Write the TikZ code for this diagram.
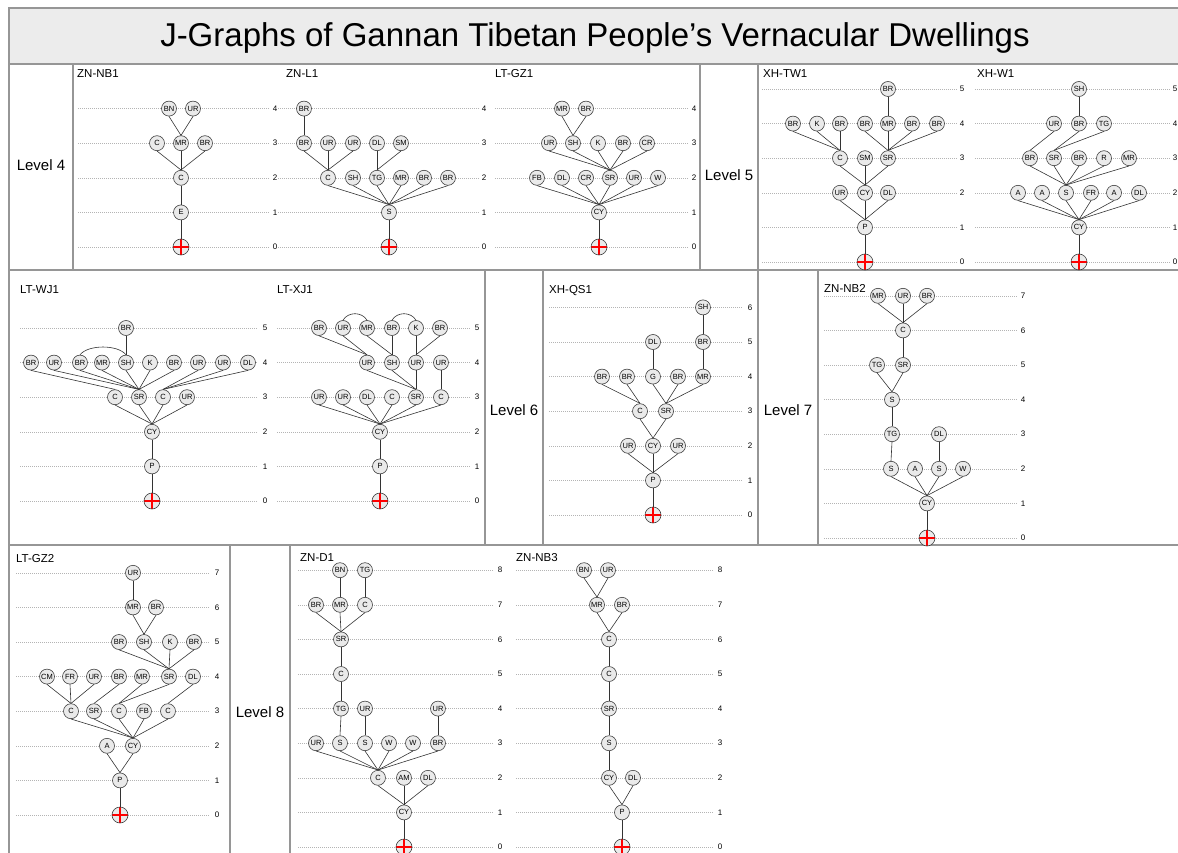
\documentclass[tikz,border=0pt]{standalone}
\usepackage{fontspec}
\setmainfont{Liberation Sans}
\usetikzlibrary{positioning}
\definecolor{frame1}{RGB}{150,150,150}
\definecolor{band1}{RGB}{236,236,236}
\definecolor{room1}{RGB}{234,234,234}
\definecolor{dot1}{RGB}{180,180,180}

% dotted level lines of one J-graph: prefix, x from, x to, label x, top level
\newcommand{\jlevels}[5]{%
  \foreach \k in {0,...,#5}{
    \draw[levelline] (#2,\k) -- (#3,\k);
    \node[levelnum, name=#1n\k] at(#4,\k) {\k};
  }}

\begin{document}
\begin{tikzpicture}[x=1pt, y=-1pt,
    room/.style={circle, draw=black!75, fill=room1, line width=0.6pt, minimum size=15pt, inner sep=0pt, font=\fontsize{7.5}{7.5}\selectfont},
    rootnode/.style={circle, draw=black!75, fill=room1, line width=0.6pt, minimum size=16pt, inner sep=0pt,
      path picture={\draw[red, line width=1.25pt] (path picture bounding box.west) -- (path picture bounding box.east)
        (path picture bounding box.north) -- (path picture bounding box.south);}},
    link/.style={draw=black!80, line width=0.6pt},
    levelline/.style={draw=dot1, line width=0.5pt, dash pattern=on 1pt off 1pt},
    levelnum/.style={font=\fontsize{8}{8}\selectfont, inner sep=0pt},
    frameline/.style={draw=frame1, line width=1.2pt},
    paneltitle/.style={font=\fontsize{11.5}{12}\selectfont, anchor=base west, inner sep=0pt},
    leveltitle/.style={font=\fontsize{15}{16}\selectfont}
]
  \useasboundingbox (0,0) rectangle (1178,853);

  % frame
  \draw[frameline, fill=band1] (9,8) rectangle (1184,64);
  \node[name=title, anchor=base, font=\fontsize{33}{36}\selectfont] at(595,47) {J-Graphs of Gannan Tibetan People’s Vernacular Dwellings};
  \draw[frameline, line width=2pt] (9,64) -- (9,853);
  \draw[frameline] (9,270) -- (1184,270);
  \draw[frameline] (9,545) -- (1184,545);
  \draw[frameline] (73,64) -- (73,270);
  \draw[frameline] (700,64) -- (700,270);
  \draw[frameline] (758,64) -- (758,270);
  \draw[frameline] (485,270) -- (485,545);
  \draw[frameline] (543,270) -- (543,545);
  \draw[frameline] (758,270) -- (758,545);
  \draw[frameline] (818,270) -- (818,545);
  \draw[frameline] (230,545) -- (230,853);
  \draw[frameline] (290,545) -- (290,853);

  \node[leveltitle, name=lv4] at(41,165) {Level 4};
  \node[leveltitle, name=lv5] at(729,175) {Level 5};
  \node[leveltitle, name=lv6] at(514,410) {Level 6};
  \node[leveltitle, name=lv7] at(788,410) {Level 7};
  \node[leveltitle, name=lv8] at(260,712) {Level 8};

  \node[paneltitle, name=tzna] at(77,78) {ZN-NB1};
  \node[paneltitle, name=tznl] at(286,78) {ZN-L1};
  \node[paneltitle, name=tgza] at(495,78) {LT-GZ1};
  \node[paneltitle, name=ttwa] at(763,78) {XH-TW1};
  \node[paneltitle, name=twa] at(977,78) {XH-W1};
  \node[paneltitle, name=twja] at(20,293) {LT-WJ1};
  \node[paneltitle, name=txja] at(277,293) {LT-XJ1};
  \node[paneltitle, name=tqsa] at(549,293) {XH-QS1};
  \node[paneltitle, name=tznb] at(824,292) {ZN-NB2};
  \node[paneltitle, name=tgzb] at(16,562) {LT-GZ2};
  \node[paneltitle, name=tzd] at(300,561) {ZN-D1};
  \node[paneltitle, name=tznc] at(516,561) {ZN-NB3};

  % ZN-NB1
  \begin{scope}[shift={(0,247)}, y=34.6pt]
    \jlevels{zna}{78}{270}{275}{4}
    \foreach \n/\x/\lab in {a/169/BN, b/193/UR} \node[room, name=zna4\n] at(\x,4) {\lab};
    \foreach \n/\x/\lab in {a/157/C, b/181/MR, c/205/BR} \node[room, name=zna3\n] at(\x,3) {\lab};
    \node[room, name=zna2a] at(181,2) {C};
    \node[room, name=zna1a] at(181,1) {E};
    \node[rootnode, name=zna0] at(181,0) {};
    \foreach \a/\b in {4a/3b, 4b/3b, 3a/2a, 3b/2a, 3c/2a, 2a/1a, 1a/0}
      \draw[link] (zna\a.south) -- (zna\b.north);
  \end{scope}

  % ZN-L1
  \begin{scope}[shift={(0,247)}, y=34.6pt]
    \jlevels{znl}{278}{479}{484}{4}
    \node[room, name=znl4a] at(304,4) {BR};
    \foreach \n/\x/\lab in {a/304/BR, b/328/UR, c/353/UR, d/377/DL, e/401/SM} \node[room, name=znl3\n] at(\x,3) {\lab};
    \foreach \n/\x/\lab in {a/328/C, b/353/SH, c/377/TG, d/401/MR, e/424/BR, f/448/BR} \node[room, name=znl2\n] at(\x,2) {\lab};
    \node[room, name=znl1a] at(389,1) {S};
    \node[rootnode, name=znl0] at(389,0) {};
    \foreach \a/\b in {4a/3a, 3a/2a, 3b/2a, 3c/2a, 3d/2c, 3e/2c, 2a/1a, 2b/1a, 2c/1a, 2d/1a, 2e/1a, 2f/1a, 1a/0}
      \draw[link] (znl\a.south) -- (znl\b.north);
  \end{scope}

  % LT-GZ1
  \begin{scope}[shift={(0,247)}, y=34.6pt]
    \jlevels{gza}{495}{689}{694}{4}
    \foreach \n/\x/\lab in {a/562/MR, b/586/BR} \node[room, name=gza4\n] at(\x,4) {\lab};
    \foreach \n/\x/\lab in {a/549/UR, b/573/SH, c/598/K, d/623/BR, e/647/CR} \node[room, name=gza3\n] at(\x,3) {\lab};
    \foreach \n/\x/\lab in {a/537/FB, b/562/DL, c/586/CR, d/610/SR, e/634/UR, f/658/W} \node[room, name=gza2\n] at(\x,2) {\lab};
    \node[room, name=gza1a] at(599,1) {CY};
    \node[rootnode, name=gza0] at(599,0) {};
    \foreach \a/\b in {4a/3b, 4b/3b, 3a/2d, 3b/2d, 3c/2d, 3d/2d, 3e/2d, 2a/1a, 2b/1a, 2c/1a, 2d/1a, 2e/1a, 2f/1a, 1a/0}
      \draw[link] (gza\a.south) -- (gza\b.north);
  \end{scope}

  % XH-TW1
  \begin{scope}[shift={(0,262)}, y=34.6pt]
    \jlevels{twa}{762}{957}{962}{5}
    \node[room, name=twa5a] at(888,5) {BR};
    \foreach \n/\x/\lab in {a/793/BR, b/817/K, c/840/BR, d/865/BR, e/888/MR, f/912/BR, g/937/BR} \node[room, name=twa4\n] at(\x,4) {\lab};
    \foreach \n/\x/\lab in {a/840/C, b/865/SM, c/888/SR} \node[room, name=twa3\n] at(\x,3) {\lab};
    \foreach \n/\x/\lab in {a/840/UR, b/865/CY, c/888/DL} \node[room, name=twa2\n] at(\x,2) {\lab};
    \node[room, name=twa1a] at(865,1) {P};
    \node[rootnode, name=twa0] at(865,0) {};
    \foreach \a/\b in {5a/4e, 4a/3a, 4b/3a, 4c/3a, 4d/3c, 4e/3c, 4f/3c, 4g/3c, 3a/2b, 3b/2b, 3c/2b, 2a/1a, 2b/1a, 2c/1a, 1a/0}
      \draw[link] (twa\a.south) -- (twa\b.north);
  \end{scope}

  % XH-W1
  \begin{scope}[shift={(0,262)}, y=34.6pt]
    \jlevels{wa}{975}{1170}{1175}{5}
    \node[room, name=wa5a] at(1079,5) {SH};
    \foreach \n/\x/\lab in {a/1054/UR, b/1079/BR, c/1104/TG} \node[room, name=wa4\n] at(\x,4) {\lab};
    \foreach \n/\x/\lab in {a/1030/BR, b/1054/SR, c/1079/BR, d/1104/R, e/1129/MR} \node[room, name=wa3\n] at(\x,3) {\lab};
    \foreach \n/\x/\lab in {a/1018/A, b/1042/A, c/1066/S, d/1091/FR, e/1114/A, f/1139/DL} \node[room, name=wa2\n] at(\x,2) {\lab};
    \node[room, name=wa1a] at(1079,1) {CY};
    \node[rootnode, name=wa0] at(1079,0) {};
    \foreach \a/\b in {5a/4b, 4a/3a, 4b/3b, 4c/3b, 3a/2c, 3b/2c, 3c/2c, 3d/2c, 3e/2c, 2a/1a, 2b/1a, 2c/1a, 2d/1a, 2e/1a, 2f/1a, 1a/0}
      \draw[link] (wa\a.south) -- (wa\b.north);
  \end{scope}

  % LT-WJ1
  \begin{scope}[shift={(0,501)}, y=34.6pt]
    \jlevels{wja}{20}{257}{265}{5}
    \node[room, name=wja5a] at(126,5) {BR};
    \foreach \n/\x/\lab in {a/31/BR, b/54/UR, c/80/BR, d/102/MR, e/126/SH, f/150/K, g/174/BR, h/198/UR, i/223/UR, j/248/DL} \node[room, name=wja4\n] at(\x,4) {\lab};
    \foreach \n/\x/\lab in {a/115/C, b/139/SR, c/163/C, d/187/UR} \node[room, name=wja3\n] at(\x,3) {\lab};
    \node[room, name=wja2a] at(152,2) {CY};
    \node[room, name=wja1a] at(152,1) {P};
    \node[rootnode, name=wja0] at(152,0) {};
    \foreach \a/\b in {5a/4e, 4a/3a, 4b/3b, 4c/3b, 4d/3b, 4e/3b, 4f/3b, 4g/3b, 4h/3c, 4i/3c, 4j/3c, 3a/2a, 3b/2a, 3c/2a, 3d/2a, 2a/1a, 1a/0}
      \draw[link] (wja\a.south) -- (wja\b.north);
    \draw[link] (wja4c.north) .. controls +(8,0.3) and +(-8,0.3) .. (wja4e.north);
  \end{scope}

  % LT-XJ1
  \begin{scope}[shift={(0,501)}, y=34.6pt]
    \jlevels{xja}{277}{470}{477}{5}
    \foreach \n/\x/\lab in {a/319/BR, b/343/UR, c/367/MR, d/392/BR, e/416/K, f/440/BR} \node[room, name=xja5\n] at(\x,5) {\lab};
    \foreach \n/\x/\lab in {a/367/UR, b/392/SH, c/416/UR, d/441/UR} \node[room, name=xja4\n] at(\x,4) {\lab};
    \foreach \n/\x/\lab in {a/319/UR, b/343/UR, c/367/DL, d/392/C, e/416/SR, f/441/C} \node[room, name=xja3\n] at(\x,3) {\lab};
    \node[room, name=xja2a] at(380,2) {CY};
    \node[room, name=xja1a] at(380,1) {P};
    \node[rootnode, name=xja0] at(380,0) {};
    \foreach \a/\b in {5a/4a, 5b/4a, 5c/4b, 5d/4b, 5e/4c, 5f/4c, 4a/3e, 4b/3e, 4c/3e, 4d/3f, 3a/2a, 3b/2a, 3c/2a, 3d/2a, 3e/2a, 3f/2a, 2a/1a, 1a/0}
      \draw[link] (xja\a.south) -- (xja\b.north);
    \draw[link] (xja5b.north) .. controls +(5,0.25) and +(-5,0.25) .. (xja5c.north);
    \draw[link] (xja5d.north) .. controls +(5,0.25) and +(-5,0.25) .. (xja5e.north);
  \end{scope}

  % XH-QS1
  \begin{scope}[shift={(0,515)}, y=34.6pt]
    \jlevels{qsa}{549}{742}{750}{6}
    \node[room, name=qsa6a] at(703,6) {SH};
    \foreach \n/\x/\lab in {a/653/DL, b/703/BR} \node[room, name=qsa5\n] at(\x,5) {\lab};
    \foreach \n/\x/\lab in {a/602/BR, b/627/BR, c/653/G, d/678/BR, e/703/MR} \node[room, name=qsa4\n] at(\x,4) {\lab};
    \foreach \n/\x/\lab in {a/640/C, b/666/SR} \node[room, name=qsa3\n] at(\x,3) {\lab};
    \foreach \n/\x/\lab in {a/628/UR, b/653/CY, c/678/UR} \node[room, name=qsa2\n] at(\x,2) {\lab};
    \node[room, name=qsa1a] at(653,1) {P};
    \node[rootnode, name=qsa0] at(653,0) {};
    \foreach \a/\b in {6a/5b, 5a/4c, 5b/4e, 4a/3a, 4b/3a, 4c/3b, 4d/3b, 4e/3b, 3a/2b, 3b/2b, 2a/1a, 2b/1a, 2c/1a, 1a/0}
      \draw[link] (qsa\a.south) -- (qsa\b.north);
  \end{scope}

  % ZN-NB2
  \begin{scope}[shift={(0,538)}, y=34.6pt]
    \jlevels{znb}{824}{1017}{1023}{7}
    \foreach \n/\x/\lab in {a/878/MR, b/903/UR, c/927/BR} \node[room, name=znb7\n] at(\x,7) {\lab};
    \node[room, name=znb6a] at(903,6) {C};
    \foreach \n/\x/\lab in {a/877/TG, b/903/SR} \node[room, name=znb5\n] at(\x,5) {\lab};
    \node[room, name=znb4a] at(892,4) {S};
    \foreach \n/\x/\lab in {a/892/TG, b/939/DL} \node[room, name=znb3\n] at(\x,3) {\lab};
    \foreach \n/\x/\lab in {a/891/S, b/915/A, c/939/S, d/963/W} \node[room, name=znb2\n] at(\x,2) {\lab};
    \node[room, name=znb1a] at(927,1) {CY};
    \node[rootnode, name=znb0] at(927,0) {};
    \foreach \a/\b in {7a/6a, 7b/6a, 7c/6a, 6a/5b, 5a/4a, 5b/4a, 4a/3a, 3a/2a, 3b/2c, 2a/1a, 2b/1a, 2c/1a, 2d/1a, 1a/0}
      \draw[link] (znb\a.south) -- (znb\b.north);
  \end{scope}

  % LT-GZ2
  \begin{scope}[shift={(0,815)}, y=34.6pt]
    \jlevels{gzb}{16}{210}{217}{7}
    \node[room, name=gzb7a] at(133,7) {UR};
    \foreach \n/\x/\lab in {a/133/MR, b/156/BR} \node[room, name=gzb6\n] at(\x,6) {\lab};
    \foreach \n/\x/\lab in {a/119/BR, b/144/SH, c/170/K, d/194/BR} \node[room, name=gzb5\n] at(\x,5) {\lab};
    \foreach \n/\x/\lab in {a/47/CM, b/70/FR, c/94/UR, d/119/BR, e/142/MR, f/169/SR, g/193/DL} \node[room, name=gzb4\n] at(\x,4) {\lab};
    \foreach \n/\x/\lab in {a/71/C, b/94/SR, c/119/C, d/144/FB, e/168/C} \node[room, name=gzb3\n] at(\x,3) {\lab};
    \foreach \n/\x/\lab in {a/107/A, b/133/CY} \node[room, name=gzb2\n] at(\x,2) {\lab};
    \node[room, name=gzb1a] at(120,1) {P};
    \node[rootnode, name=gzb0] at(120,0) {};
    \foreach \a/\b in {7a/6a, 6a/5b, 6b/5b, 5a/4f, 5b/4f, 5c/4f, 5d/4f, 4a/3a, 4b/3a, 4c/3a, 4d/3b, 4e/3c, 4f/3c, 4g/3e, 3a/2b, 3b/2b, 3c/2b, 3d/2b, 3e/2b, 2a/1a, 2b/1a, 1a/0}
      \draw[link] (gzb\a.south) -- (gzb\b.north);
  \end{scope}

  % ZN-D1
  \begin{scope}[shift={(0,847)}, y=34.6pt]
    \jlevels{zd}{298}{493}{500}{8}
    \foreach \n/\x/\lab in {a/340/BN, b/365/TG} \node[room, name=zd8\n] at(\x,8) {\lab};
    \foreach \n/\x/\lab in {a/316/BR, b/340/MR, c/365/C} \node[room, name=zd7\n] at(\x,7) {\lab};
    \node[room, name=zd6a] at(341,6) {SR};
    \node[room, name=zd5a] at(341,5) {C};
    \foreach \n/\x/\lab in {a/341/TG, b/365/UR, c/438/UR} \node[room, name=zd4\n] at(\x,4) {\lab};
    \foreach \n/\x/\lab in {a/316/UR, b/340/S, c/365/S, d/389/W, e/413/W, f/438/BR} \node[room, name=zd3\n] at(\x,3) {\lab};
    \foreach \n/\x/\lab in {a/378/C, b/404/AM, c/428/DL} \node[room, name=zd2\n] at(\x,2) {\lab};
    \node[room, name=zd1a] at(404,1) {CY};
    \node[rootnode, name=zd0] at(404,0) {};
    \foreach \a/\b in {8a/7b, 8b/7c, 7a/6a, 7b/6a, 7c/6a, 6a/5a, 5a/4a, 4a/3b, 4b/3c, 4c/3f, 3a/2a, 3b/2a, 3c/2a, 3d/2a, 3e/2a, 3f/2a, 2a/1a, 2b/1a, 2c/1a, 1a/0}
      \draw[link] (zd\a.south) -- (zd\b.north);
  \end{scope}

  % ZN-NB3
  \begin{scope}[shift={(0,847)}, y=34.6pt]
    \jlevels{znc}{516}{713}{720}{8}
    \foreach \n/\x/\lab in {a/584/BN, b/608/UR} \node[room, name=znc8\n] at(\x,8) {\lab};
    \foreach \n/\x/\lab in {a/597/MR, b/622/BR} \node[room, name=znc7\n] at(\x,7) {\lab};
    \node[room, name=znc6a] at(609,6) {C};
    \node[room, name=znc5a] at(609,5) {C};
    \node[room, name=znc4a] at(609,4) {SR};
    \node[room, name=znc3a] at(609,3) {S};
    \foreach \n/\x/\lab in {a/609/CY, b/633/DL} \node[room, name=znc2\n] at(\x,2) {\lab};
    \node[room, name=znc1a] at(622,1) {P};
    \node[rootnode, name=znc0] at(622,0) {};
    \foreach \a/\b in {8a/7a, 8b/7a, 7a/6a, 7b/6a, 6a/5a, 5a/4a, 4a/3a, 3a/2a, 2a/1a, 2b/1a, 1a/0}
      \draw[link] (znc\a.south) -- (znc\b.north);
  \end{scope}
\end{tikzpicture}
\end{document}
